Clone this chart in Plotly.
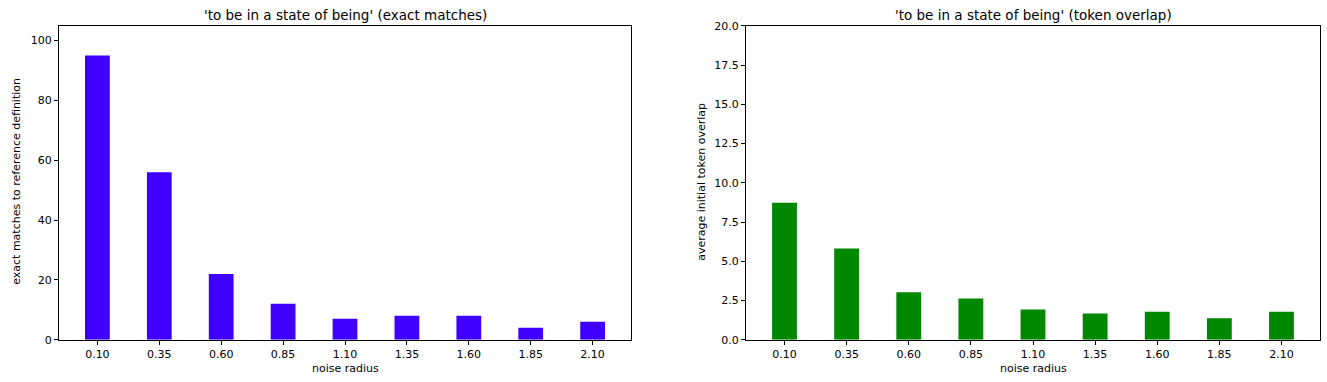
import plotly.graph_objects as go

categories = ["0.10", "0.35", "0.60", "0.85", "1.10", "1.35", "1.60", "1.85", "2.10"]
exact_matches = [95, 56, 22, 12, 7, 8, 8, 4, 6]
token_overlap = [8.72, 5.82, 3.02, 2.62, 1.93, 1.67, 1.78, 1.37, 1.78]

W, H = 1327, 382
positions = list(range(len(categories)))

fig = go.Figure()
fig.add_trace(go.Bar(x=positions, y=exact_matches, width=0.4, marker=dict(color="#4000ff", line=dict(width=0)),
                     xaxis="x", yaxis="y", showlegend=False))
fig.add_trace(go.Bar(x=positions, y=token_overlap, width=0.4, marker=dict(color="#008800", line=dict(width=0)),
                     xaxis="x2", yaxis="y2", showlegend=False))

font = dict(family="DejaVu Sans", size=11, color="black")
top_px, bot_px = 20.5, 345.5
ydom = [1 - bot_px / H, 1 - top_px / H]
axis_common = dict(showline=True, linecolor="black", linewidth=1, mirror=True, ticks="outside",
                   ticklen=4, tickcolor="black", showgrid=False, zeroline=False,
                   tickfont=dict(family="DejaVu Sans", size=11, color="black"))

fig.update_layout(
    width=W, height=H, margin=dict(l=0, r=0, t=0, b=0),
    paper_bgcolor="white", plot_bgcolor="white", font=font,
    xaxis=dict(domain=[59 / W, 631 / W], range=[-0.62, 8.62], tickvals=positions, ticktext=categories,
               anchor="y", **axis_common),
    yaxis=dict(domain=ydom, range=[0, 104.9], tickvals=[0, 20, 40, 60, 80, 100], anchor="x", **axis_common),
    xaxis2=dict(domain=[746 / W, 1320 / W], range=[-0.62, 8.62], tickvals=positions, ticktext=categories,
                anchor="y2", **axis_common),
    yaxis2=dict(domain=ydom, range=[0, 20], tickvals=[0, 2.5, 5, 7.5, 10, 12.5, 15, 17.5, 20],
                ticktext=["0.0", "2.5", "5.0", "7.5", "10.0", "12.5", "15.0", "17.5", "20.0"],
                anchor="x2", **axis_common),
)

ann = [
    dict(text="'to be in a state of being' (exact matches)", x=(59 + 631) / 2 / W, y=1 - 9.5 / H,
         font=dict(family="DejaVu Sans", size=13.5, color="black")),
    dict(text="'to be in a state of being' (token overlap)", x=(746 + 1320) / 2 / W, y=1 - 9.5 / H,
         font=dict(family="DejaVu Sans", size=13.5, color="black")),
    dict(text="noise radius", x=(59 + 631) / 2 / W, y=1 - 375 / H, font=font),
    dict(text="noise radius", x=(746 + 1320) / 2 / W, y=1 - 375 / H, font=font),
    dict(text="exact matches to reference definition", x=17 / W, y=1 - 182 / H, textangle=-90, font=font),
    dict(text="average initial token overlap", x=702 / W, y=1 - 182 / H, textangle=-90, font=font),
]
for a in ann:
    fig.add_annotation(xref="paper", yref="paper", showarrow=False, xanchor="center", yanchor="middle", **a)

fig.write_html("out.html", config={"displayModeBar": False},
               post_script="document.body.style.margin='0';document.body.style.overflow='hidden';")
